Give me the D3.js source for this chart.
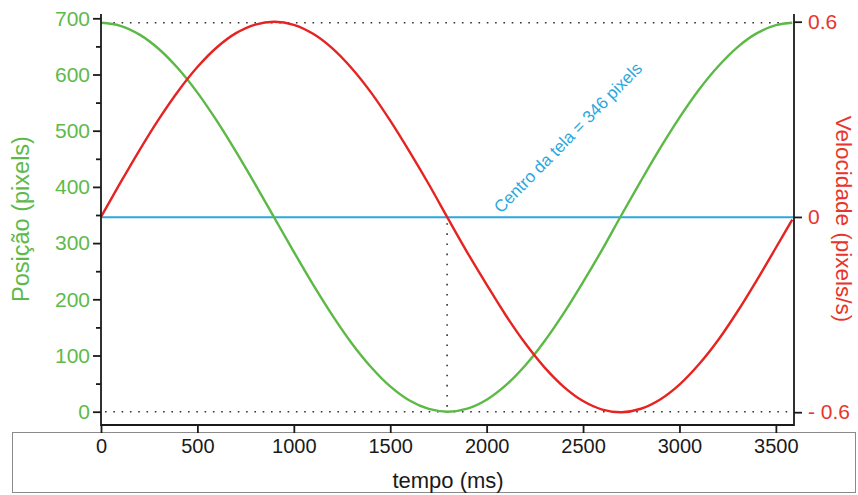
<!DOCTYPE html>
<html><head><meta charset="utf-8">
<script src="https://cdn.jsdelivr.net/npm/d3@7/dist/d3.min.js"></script>
<style>
html,body{margin:0;padding:0;background:#fff;}
svg{display:block;font-family:"Liberation Sans",Arial,sans-serif;}
</style></head>
<body>
<svg id="chart" width="858" height="495"></svg>
<script>
// ---- data ----
const timeMs = [0,100,200,300,400,500,600,700,800,900,1000,1100,1200,1300,1400,1500,1600,1700,1800,1900,2000,2100,2200,2300,2400,2500,2600,2700,2800,2900,3000,3100,3200,3300,3400,3500,3585];
const positionPx = [692,686.7,671,645.4,610.6,567.8,517.9,462.8,404.6,344.5,284.4,225.9,171.4,121.9,79.6,45,19.9,4.9,0,5.4,21.4,47.3,82.3,125.4,175.4,230.6,288.9,350.5,410.6,468.9,523.3,572.5,614.2,648.4,673.1,687.7,692];
const velocity = [0,0.1045,0.2057,0.3007,0.3865,0.4606,0.5207,0.5648,0.5913,0.6,0.5904,0.5627,0.518,0.4571,0.3828,0.2958,0.2006,0.1005,-0.0053,-0.1094,-0.2077,-0.3028,-0.3884,-0.4622,-0.5219,-0.5657,-0.5918,-0.6,-0.5894,-0.5608,-0.5152,-0.4536,-0.379,-0.2914,-0.1954,-0.0947,-0.008];
const xTicks = [0,500,1000,1500,2000,2500,3000,3500];
const yLeftTicks = [0,100,200,300,400,500,600,700];
const yLeftMinor = [50,150,250,350,450,550,650];
const yRightTicks = [-0.6,0,0.6];
const yRightLabels = ["- 0.6","0","0.6"];
const centerPx = 346;
const crossTime = 1795;
const posMax = 692;

const GREEN = "#5cb946", GREEN_T = "#5dba4a", RED = "#e52421", RED_T = "#e8342c", CYAN = "#2aa7de";

const svg = d3.select("#chart");
const x = d3.scaleLinear().domain([0, 3594]).range([101, 794]);
const yL = d3.scaleLinear().domain([0, 700]).range([411.7, 18.3]);
const yR = d3.scaleLinear().domain([-0.6, 0.6]).range([412.2, 21.7]);
const plotTop = 14, plotBottom = 425;

// lower box
svg.append("rect").attr("x", 12.5).attr("y", 432.5).attr("width", 843).attr("height", 60)
  .attr("fill", "#fff").attr("stroke", "#8a8a8a").attr("stroke-width", 1);

// dotted reference lines
const dotted = svg.append("g").attr("stroke", "#333").attr("stroke-width", 1.6).attr("stroke-dasharray", "1.6,6.7");
dotted.append("line").attr("x1", x(0)+4).attr("x2", x.range()[1]).attr("y1", yL(posMax)).attr("y2", yL(posMax));
dotted.append("line").attr("x1", x(0)+4).attr("x2", x.range()[1]).attr("y1", yL(0)).attr("y2", yL(0));
dotted.append("line").attr("x1", x(crossTime)).attr("x2", x(crossTime)).attr("y1", yL(centerPx)+6).attr("y2", yL(0)).attr("stroke-dasharray", "1.6,8.5");

// center line
svg.append("line").attr("x1", x(0)).attr("x2", x.range()[1]).attr("y1", yL(centerPx)).attr("y2", yL(centerPx))
  .attr("stroke", CYAN).attr("stroke-width", 2);

// curves
const pts = timeMs.map((t,i)=>({t, p: positionPx[i], v: velocity[i]}));
svg.append("path").datum(pts).attr("fill","none").attr("stroke", GREEN).attr("stroke-width", 2.4)
  .attr("d", d3.line().x(d=>x(d.t)).y(d=>yL(d.p)).curve(d3.curveCatmullRom));
svg.append("path").datum(pts).attr("fill","none").attr("stroke", RED).attr("stroke-width", 2.4)
  .attr("d", d3.line().x(d=>x(d.t)).y(d=>yR(d.v)).curve(d3.curveCatmullRom));

// center label
const lx = 501, ly = 214;
svg.append("text").attr("transform", `translate(${lx},${ly}) rotate(-45.5)`)
  .attr("fill", CYAN).attr("font-size", 17).text(`Centro da tela = ${centerPx} pixels`);

// axes
const axisColor = "#1a1a1a";
function styleAxis(g){ g.select(".domain").remove(); g.selectAll(".tick line").attr("stroke", axisColor).attr("stroke-width", 1.8); }

const gL = svg.append("g").attr("transform", `translate(${x(0)},0)`)
  .call(d3.axisLeft(yL).tickValues(yLeftTicks).tickSize(8).tickPadding(3));
styleAxis(gL);
gL.selectAll("text").attr("fill", GREEN_T).attr("font-size", 21).attr("font-family", "Liberation Sans, Arial, sans-serif");
const gLm = svg.append("g").attr("transform", `translate(${x(0)},0)`)
  .call(d3.axisLeft(yL).tickValues(yLeftMinor).tickSize(5).tickFormat(""));
styleAxis(gLm);

const gR = svg.append("g").attr("transform", `translate(${x.range()[1]},0)`)
  .call(d3.axisRight(yR).tickValues(yRightTicks).tickSize(8).tickPadding(6).tickFormat((d,i)=>yRightLabels[i]));
styleAxis(gR);
gR.selectAll("text").attr("fill", RED_T).attr("font-size", 21).attr("font-family", "Liberation Sans, Arial, sans-serif");

const gB = svg.append("g").attr("transform", `translate(0,${plotBottom})`)
  .call(d3.axisBottom(x).tickValues(xTicks).tickSize(8).tickPadding(6).tickFormat(d3.format("d")));
styleAxis(gB);
gB.selectAll("text").attr("fill", "#1a1a1a").attr("font-size", 20).attr("font-family", "Liberation Sans, Arial, sans-serif");

// axis lines
const ax = svg.append("g").attr("stroke", axisColor).attr("stroke-width", 1.8);
ax.append("line").attr("x1", x(0)).attr("x2", x(0)).attr("y1", plotTop).attr("y2", plotBottom+0.9);
ax.append("line").attr("x1", x.range()[1]).attr("x2", x.range()[1]).attr("y1", plotTop).attr("y2", plotBottom+0.9);
ax.append("line").attr("x1", x(0)).attr("x2", x.range()[1]).attr("y1", plotBottom).attr("y2", plotBottom);

// axis titles
svg.append("text").attr("transform", "translate(29,219) rotate(-90)").attr("text-anchor","middle")
  .attr("fill", GREEN_T).attr("font-size", 23.5).text("Posição (pixels)");
svg.append("text").attr("transform", "translate(836,219) rotate(90)").attr("text-anchor","middle")
  .attr("fill", RED_T).attr("font-size", 22.5).text("Velocidade (pixels/s)");
svg.append("text").attr("x", 448).attr("y", 488).attr("text-anchor","middle")
  .attr("fill", "#1a1a1a").attr("font-size", 22).text("tempo (ms)");
</script>
</body></html>
